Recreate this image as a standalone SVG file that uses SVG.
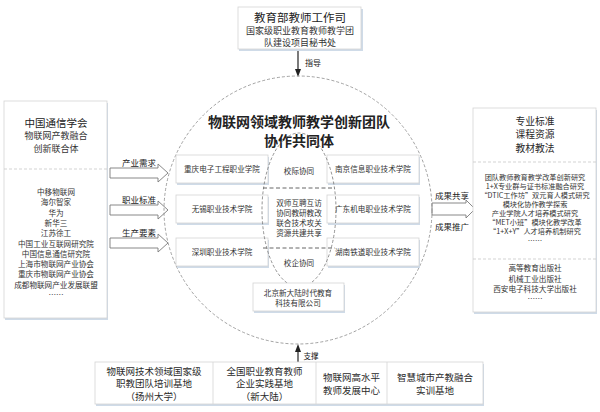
<svg xmlns="http://www.w3.org/2000/svg" width="600" height="412" viewBox="0 0 600 412">
<defs>
<marker id="ah" markerWidth="8" markerHeight="8" refX="4" refY="4" orient="auto" markerUnits="userSpaceOnUse">
<path d="M0,1 L8,4 L0,7 z" fill="#222"/>
</marker>
</defs>
<style>
text{font-family:"Noto Sans CJK SC","Liberation Sans",sans-serif;fill:#333;text-anchor:middle}
.box{fill:#fff;stroke:#d4d4d4;stroke-width:0.8}
.sh{fill:#cfdbe8}
.sep{stroke:#c8c8c8;stroke-width:0.8;stroke-dasharray:3,2;fill:none}
.arr{fill:#fff;stroke:#7a7a7a;stroke-width:0.9}
.t8{font-size:7.6px}
.t7{font-size:7.2px}
.t9{font-size:9px}
.t10{font-size:10.5px}
.th{font-size:9.8px;fill:#2a2a2a}
.tb{font-size:9.5px;fill:#2a2a2a}
.lbl{font-size:8.5px;fill:#222}
</style>
<rect width="600" height="412" fill="#fff"/>

<g id="connectors">
<line x1="298" y1="50" x2="298" y2="73" stroke="#222" stroke-width="1.2" marker-end="url(#ah)"/>
<text x="313" y="66" class="lbl" style="font-size:8px">指导</text>
<line x1="298" y1="362" x2="298" y2="348" stroke="#222" stroke-width="1.2" marker-end="url(#ah)"/>
<text x="311" y="359" class="lbl" style="font-size:7.5px">支撑</text>
<polygon class="arr" points="110,168 158,168 158,164 168,173 158,182 158,178 110,178"/>
<text x="139" y="166" class="lbl">产业需求</text>
<polygon class="arr" points="110,205 158,205 158,201 168,210 158,219 158,215 110,215"/>
<text x="139" y="203" class="lbl">职业标准</text>
<polygon class="arr" points="110,238 158,238 158,234 168,243 158,252 158,248 110,248"/>
<text x="139" y="236" class="lbl">生产要素</text>
<polygon class="arr" points="432,203 466,203 466,200 475,209 466,218 466,215 432,215"/>
<text x="452" y="199" class="lbl">成果共享</text>
<text x="452" y="230" class="lbl">成果推广</text>
</g>

<g id="top">
<rect class="sh" x="239" y="9" width="124" height="42"/>
<rect class="box" x="238" y="7" width="123" height="42"/>
<text x="300" y="22" style="font-size:11.5px;fill:#222">教育部教师工作司</text>
<text x="300" y="34" class="t9">国家级职业教育教师教学团</text>
<text x="300" y="46" class="t9">队建设项目秘书处</text>
</g>

<g id="community">
<ellipse cx="298" cy="210" rx="134" ry="134" fill="none" stroke="#8a8a8a" stroke-width="0.8" stroke-dasharray="3,2"/>
<text x="299" y="127" style="font-size:14px;font-weight:bold;fill:#222">物联网领域教师教学创新团队</text>
<text x="299" y="146" style="font-size:14px;font-weight:bold;fill:#222">协作共同体</text>
</g>

<g id="school-left">
<rect class="sh" x="177" y="157" width="92" height="28"/>
<rect class="box" x="176" y="155" width="92" height="28"/>
<text x="222" y="172" class="t8">重庆电子工程职业学院</text>
<rect class="sh" x="177" y="197" width="92" height="28"/>
<rect class="box" x="176" y="195" width="92" height="28"/>
<text x="222" y="212" class="t8">无锡职业技术学院</text>
<rect class="sh" x="177" y="240" width="92" height="28"/>
<rect class="box" x="176" y="238" width="92" height="28"/>
<text x="222" y="255" class="t8">深圳职业技术学院</text>
</g>

<g id="school-right">
<rect class="sh" x="328" y="157" width="92" height="28"/>
<rect class="box" x="327" y="155" width="92" height="28"/>
<text x="373" y="172" class="t8">南京信息职业技术学院</text>
<rect class="sh" x="328" y="197" width="92" height="28"/>
<rect class="box" x="327" y="195" width="92" height="28"/>
<text x="373" y="212" class="t8">广东机电职业技术学院</text>
<rect class="sh" x="328" y="240" width="92" height="28"/>
<rect class="box" x="327" y="238" width="92" height="28"/>
<text x="373" y="255" class="t8">湖南铁道职业技术学院</text>
</g>

<g id="lens">
<ellipse cx="299" cy="210" rx="37" ry="77" fill="none" stroke="#777" stroke-width="0.8" stroke-dasharray="3,2"/>
<line x1="263" y1="188" x2="335" y2="188" stroke="#666" stroke-width="1" stroke-dasharray="4,2.5"/>
<line x1="263" y1="248" x2="335" y2="248" stroke="#666" stroke-width="1" stroke-dasharray="4,2.5"/>
<text x="299" y="174" class="t8">校际协同</text>
<text x="299" y="206" class="t8">双师互聘互访</text>
<text x="299" y="216" class="t8">协同教研教改</text>
<text x="299" y="226" class="t8">联合技术攻关</text>
<text x="299" y="236" class="t8">资源共建共享</text>
<text x="299" y="266" class="t8">校企协同</text>
</g>

<g id="company">
<rect class="sh" x="254" y="285" width="91" height="28"/>
<rect class="box" x="253" y="283" width="91" height="28"/>
<text x="298" y="295.5" class="t8">北京新大陆时代教育</text>
<text x="298" y="306" class="t8">科技有限公司</text>
</g>

<g id="left">
<rect class="sh" x="5" y="103" width="103" height="217"/>
<rect class="box" x="4" y="101" width="103" height="217"/>
<line class="sep" x1="4" y1="169" x2="107" y2="169"/>
<text x="56" y="127" class="t10" style="fill:#222">中国通信学会</text>
<text x="56" y="139" class="t9">物联网产教融合</text>
<text x="56" y="152" class="t9">创新联合体</text>
<text x="56" y="195" class="t8">中移物联网</text>
<text x="56" y="205.3" class="t8">海尔智家</text>
<text x="56" y="215.6" class="t8">华为</text>
<text x="56" y="225.9" class="t8">新华三</text>
<text x="56" y="236.2" class="t8">江苏徐工</text>
<text x="56" y="246.5" class="t8">中国工业互联网研究院</text>
<text x="56" y="256.8" class="t8">中国信息通信研究院</text>
<text x="56" y="267.1" class="t8">上海市物联网产业协会</text>
<text x="56" y="277.4" class="t8">重庆市物联网产业协会</text>
<text x="56" y="287.7" class="t8">成都物联网产业发展联盟</text>
<text x="56" y="297.5" class="t8">……</text>
</g>

<g id="right">
<rect class="sh" x="474" y="110" width="123" height="204"/>
<rect class="box" x="473" y="108" width="123" height="204"/>
<line class="sep" x1="473" y1="162" x2="596" y2="162"/>
<line class="sep" x1="473" y1="259" x2="596" y2="259"/>
<text x="535" y="125" class="th">专业标准</text>
<text x="535" y="138.3" class="th">课程资源</text>
<text x="535" y="151.6" class="th">教材教法</text>
<text x="535" y="180" class="t7">团队教师教育教学改革创新研究</text>
<text x="535" y="189" class="t7">1+X专业群与证书标准融合研究</text>
<text x="535" y="198" class="t7">“DTIC工作坊”双元育人模式研究</text>
<text x="535" y="207" class="t7">模块化协作教学探索</text>
<text x="535" y="216" class="t7">产业学院人才培养模式研究</text>
<text x="535" y="225" class="t7">“MET小班”模块化教学改革</text>
<text x="535" y="234" class="t7">“1+X+Y”人才培养机制研究</text>
<text x="535" y="243" class="t7">……</text>
<text x="535" y="271" class="t8">高等教育出版社</text>
<text x="535" y="281.5" class="t8">机械工业出版社</text>
<text x="535" y="292" class="t8">西安电子科技大学出版社</text>
<text x="535" y="302" class="t8">……</text>
</g>

<g id="bases">
<rect class="sh" x="96" y="364" width="388" height="42"/>
<rect class="box" x="95" y="362" width="388" height="42"/>
<line x1="213" y1="362" x2="213" y2="404" stroke="#d4d4d4" stroke-width="0.8"/>
<line x1="316" y1="362" x2="316" y2="404" stroke="#d4d4d4" stroke-width="0.8"/>
<line x1="387" y1="362" x2="387" y2="404" stroke="#d4d4d4" stroke-width="0.8"/>
<text x="154" y="374.5" class="tb">物联网技术领域国家级</text>
<text x="154" y="387" class="tb">职教团队培训基地</text>
<text x="154" y="399.5" class="tb">（扬州大学）</text>
<text x="264.5" y="374.5" class="tb">全国职业教育教师</text>
<text x="264.5" y="387" class="tb">企业实践基地</text>
<text x="264.5" y="399.5" class="tb">（新大陆）</text>
<text x="351.5" y="381" class="tb">物联网高水平</text>
<text x="351.5" y="393.5" class="tb">教师发展中心</text>
<text x="435" y="381" class="tb">智慧城市产教融合</text>
<text x="435" y="393.5" class="tb">实训基地</text>
</g>
</svg>
